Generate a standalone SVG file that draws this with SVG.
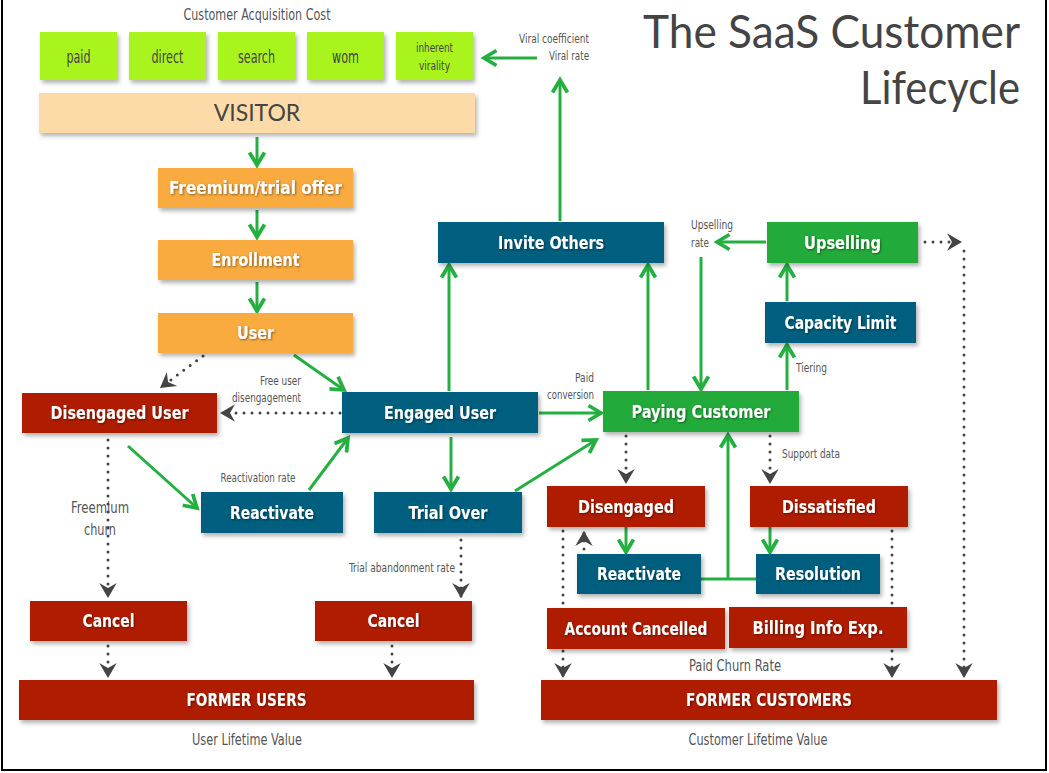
<svg xmlns="http://www.w3.org/2000/svg" width="1049" height="773" viewBox="0 0 1049 773">
  <style>
    .box { filter: url(#shadow); }
    .red { fill: #b01b00; }
    .teal { fill: #005f7e; }
    .green { fill: #24ab3b; }
    .orange { fill: #f9ab40; }
    .lime { fill: #a9f41c; }
    .visitor { fill: #fcdba8; }
    .lbl { font-family: "DejaVu Sans Condensed", "DejaVu Sans", sans-serif; font-stretch: condensed; font-weight: bold; font-size: 17px; fill: #ffffff; text-anchor: middle; filter: url(#tshadow); }
    .src { font-family: "DejaVu Sans Condensed", "DejaVu Sans", sans-serif; font-stretch: condensed; font-size: 18px; fill: #444444; text-anchor: middle; }
    .src.small { font-size: 13px; }
    .note { font-family: "DejaVu Sans Condensed", "DejaVu Sans", sans-serif; font-stretch: condensed; font-size: 13px; fill: #555555; }
    .cap { font-family: "DejaVu Sans Condensed", "DejaVu Sans", sans-serif; font-stretch: condensed; font-size: 16px; fill: #555555; text-anchor: middle; }
    .title { font-family: "Lato", "Open Sans", sans-serif; font-size: 46px; fill: #444444; text-anchor: end; }
    .flow { stroke: #24b040; stroke-width: 3; fill: none; marker-end: url(#ga); }
    .flow-plain { stroke: #24b040; stroke-width: 3; fill: none; }
    .dot { stroke: #444444; stroke-width: 3; fill: none; stroke-dasharray: 0 8; stroke-linecap: round; marker-end: url(#da); }
  </style>
  <defs>
    <filter id="shadow" x="-10%" y="-20%" width="130%" height="160%">
      <feDropShadow dx="2" dy="3" stdDeviation="2" flood-color="#000" flood-opacity="0.3"/>
    </filter>
    <filter id="tshadow" x="-10%" y="-30%" width="120%" height="160%">
      <feDropShadow dx="1" dy="1" stdDeviation="1" flood-color="#000" flood-opacity="0.45"/>
    </filter>
    <marker id="ga" markerUnits="userSpaceOnUse" markerWidth="20" markerHeight="20" viewBox="-12 -8 14 16" refX="0" refY="0" orient="auto">
      <path d="M-10,-6 L0,0 L-10,6" fill="none" stroke="#24b040" stroke-width="3"/>
    </marker>
    <marker id="da" markerUnits="userSpaceOnUse" markerWidth="20" markerHeight="20" viewBox="-12 -8 14 16" refX="0" refY="0" orient="auto">
      <path d="M-12,-7 L0,0 L-12,7 L-8,0 z" fill="#444444"/>
    </marker>
  </defs>

  <rect width="1049" height="773" fill="#ffffff"/>
  <path d="M2,0 V770 H1046 V0" fill="none" stroke="#000" stroke-width="2"/>

  <!-- heading -->
  <text class="title" x="1020" y="48" textLength="377" lengthAdjust="spacingAndGlyphs">The SaaS Customer</text>
  <text class="title" x="1020" y="104" textLength="160" lengthAdjust="spacingAndGlyphs">Lifecycle</text>

  <!-- free-standing labels -->
  <g id="labels">
    <text class="cap" x="257" y="20" textLength="147" lengthAdjust="spacingAndGlyphs">Customer Acquisition Cost</text>
    <text class="note" x="589" y="43" text-anchor="end" textLength="70" lengthAdjust="spacingAndGlyphs">Viral coefficient</text>
    <text class="note" x="589" y="60" text-anchor="end" textLength="40" lengthAdjust="spacingAndGlyphs">Viral rate</text>
    <text class="note" x="691" y="229" textLength="42" lengthAdjust="spacingAndGlyphs">Upselling</text>
    <text class="note" x="691" y="247" textLength="18" lengthAdjust="spacingAndGlyphs">rate</text>
    <text class="note" x="796" y="372" textLength="31" lengthAdjust="spacingAndGlyphs">Tiering</text>
    <text class="note" x="594" y="382" text-anchor="end" textLength="19" lengthAdjust="spacingAndGlyphs">Paid</text>
    <text class="note" x="594" y="399" text-anchor="end" textLength="47" lengthAdjust="spacingAndGlyphs">conversion</text>
    <text class="note" x="301" y="385" text-anchor="end" textLength="41" lengthAdjust="spacingAndGlyphs">Free user</text>
    <text class="note" x="301" y="402" text-anchor="end" textLength="69" lengthAdjust="spacingAndGlyphs">disengagement</text>
    <text class="note" x="258" y="482" text-anchor="middle" textLength="75" lengthAdjust="spacingAndGlyphs">Reactivation rate</text>
    <text class="cap" x="100" y="513" text-anchor="end" textLength="58" lengthAdjust="spacingAndGlyphs">Freemium</text>
    <text class="cap" x="100" y="535" text-anchor="end" textLength="32" lengthAdjust="spacingAndGlyphs">churn</text>
    <text class="note" x="455" y="572" text-anchor="end" textLength="106" lengthAdjust="spacingAndGlyphs">Trial abandonment rate</text>
    <text class="note" x="782" y="458" textLength="58" lengthAdjust="spacingAndGlyphs">Support data</text>
    <text class="cap" x="735" y="671" textLength="92" lengthAdjust="spacingAndGlyphs">Paid Churn Rate</text>
    <text class="cap" x="247" y="745" textLength="110" lengthAdjust="spacingAndGlyphs">User Lifetime Value</text>
    <text class="cap" x="758" y="745" textLength="139" lengthAdjust="spacingAndGlyphs">Customer Lifetime Value</text>
  </g>

  <!-- connectors -->
  <g id="connectors">
    <path class="flow" d="M257,137 L257,165"/>
    <path class="flow" d="M257,210 L257,237"/>
    <path class="flow" d="M257,282 L257,311"/>
    <path class="flow" d="M294,355 L344,390"/>
    <path class="dot" d="M203,356 L160,388"/>
    <path class="dot" d="M340,413 L220,413"/>
    <path class="flow" d="M128,446 L197,508"/>
    <path class="flow" d="M309,490 L348,438"/>
    <path class="flow" d="M451,437 L451,489"/>
    <path class="flow" d="M515,491 L596,440"/>
    <path class="flow" d="M539,413 L601,413"/>
    <path class="flow" d="M449,391 L449,265"/>
    <path class="flow" d="M648,390 L648,265"/>
    <path class="flow" d="M560,221 L560,80"/>
    <path class="flow" d="M537,58 L484,58"/>
    <path class="flow" d="M766,242 L717,242"/>
    <path class="flow" d="M701,257 L701,389"/>
    <path class="flow" d="M787,301 L787,265"/>
    <path class="flow" d="M787,390 L787,345"/>
    <path class="dot" d="M925,242 L962,242"/>
    <path class="dot" d="M964,251 L964,678"/>
    <path class="dot" d="M626,436 L626,484"/>
    <path class="dot" d="M770,436 L770,484"/>
    <path class="flow" d="M626,527 L626,552"/>
    <path class="flow" d="M770,527 L770,552"/>
    <path class="flow-plain" d="M701,579 L756,579"/>
    <path class="flow" d="M728,579 L728,435"/>
    <path class="dot" d="M584,557 L584,531"/>
    <path class="dot" d="M563,531 L563,678"/>
    <path class="dot" d="M892,531 L892,678"/>
    <path class="dot" d="M108,440 L108,598"/>
    <path class="dot" d="M461,540 L461,598"/>
    <path class="dot" d="M108,646 L108,678"/>
    <path class="dot" d="M392,646 L392,678"/>
  </g>

  <!-- acquisition channels -->
  <g id="paid"><rect class="box lime" x="40" y="32" width="77" height="48"/><text class="src" x="78.5" y="63" textLength="24" lengthAdjust="spacingAndGlyphs">paid</text></g>
  <g id="direct"><rect class="box lime" x="129" y="32" width="77" height="48"/><text class="src" x="167.5" y="63" textLength="32" lengthAdjust="spacingAndGlyphs">direct</text></g>
  <g id="search"><rect class="box lime" x="218" y="32" width="77" height="48"/><text class="src" x="256.5" y="63" textLength="37" lengthAdjust="spacingAndGlyphs">search</text></g>
  <g id="wom"><rect class="box lime" x="307" y="32" width="77" height="48"/><text class="src" x="345.5" y="63" textLength="27" lengthAdjust="spacingAndGlyphs">wom</text></g>
  <g id="virality"><rect class="box lime" x="396" y="32" width="77" height="48"/><text class="src small" x="434.5" y="52" textLength="37" lengthAdjust="spacingAndGlyphs">inherent</text><text class="src small" x="434.5" y="70" textLength="31" lengthAdjust="spacingAndGlyphs">virality</text></g>

  <g id="visitor"><rect class="box visitor" x="39" y="93" width="436" height="40"/><text x="257" y="121" text-anchor="middle" font-family="Lato, 'Open Sans', sans-serif" font-size="23" fill="#444">VISITOR</text></g>

  <!-- free funnel -->
  <g id="offer"><rect class="box orange" x="158" y="168" width="195" height="40"/><text class="lbl" x="255.5" y="194" textLength="173" lengthAdjust="spacingAndGlyphs">Freemium/trial offer</text></g>
  <g id="enrollment"><rect class="box orange" x="158" y="240" width="195" height="40"/><text class="lbl" x="255.5" y="266" textLength="88" lengthAdjust="spacingAndGlyphs">Enrollment</text></g>
  <g id="user"><rect class="box orange" x="158" y="313" width="195" height="40"/><text class="lbl" x="255.5" y="339" textLength="37" lengthAdjust="spacingAndGlyphs">User</text></g>

  <g id="disengaged-user"><rect class="box red" x="22" y="393" width="195" height="40"/><text class="lbl" x="119.5" y="419" textLength="138" lengthAdjust="spacingAndGlyphs">Disengaged User</text></g>
  <g id="engaged-user"><rect class="box teal" x="342" y="392" width="196" height="41"/><text class="lbl" x="440" y="419" textLength="112" lengthAdjust="spacingAndGlyphs">Engaged User</text></g>
  <g id="reactivate-user"><rect class="box teal" x="201" y="492" width="142" height="41"/><text class="lbl" x="272" y="519" textLength="84" lengthAdjust="spacingAndGlyphs">Reactivate</text></g>
  <g id="trial-over"><rect class="box teal" x="374" y="492" width="148" height="41"/><text class="lbl" x="448" y="519" textLength="79" lengthAdjust="spacingAndGlyphs">Trial Over</text></g>
  <g id="cancel-free"><rect class="box red" x="30" y="601" width="157" height="40"/><text class="lbl" x="108.5" y="627" textLength="52" lengthAdjust="spacingAndGlyphs">Cancel</text></g>
  <g id="cancel-trial"><rect class="box red" x="315" y="601" width="157" height="40"/><text class="lbl" x="393.5" y="627" textLength="52" lengthAdjust="spacingAndGlyphs">Cancel</text></g>
  <g id="former-users"><rect class="box red" x="19" y="680" width="455" height="40"/><text class="lbl" x="246.5" y="706" textLength="120" lengthAdjust="spacingAndGlyphs">FORMER USERS</text></g>

  <!-- paying side -->
  <g id="invite-others"><rect class="box teal" x="438" y="222" width="226" height="41"/><text class="lbl" x="551" y="249" textLength="106" lengthAdjust="spacingAndGlyphs">Invite Others</text></g>
  <g id="upselling"><rect class="box green" x="767" y="222" width="151" height="41"/><text class="lbl" x="842.5" y="249" textLength="77" lengthAdjust="spacingAndGlyphs">Upselling</text></g>
  <g id="capacity-limit"><rect class="box teal" x="765" y="302" width="151" height="41"/><text class="lbl" x="840.5" y="329" textLength="112" lengthAdjust="spacingAndGlyphs">Capacity Limit</text></g>
  <g id="paying-customer"><rect class="box green" x="603" y="391" width="196" height="41"/><text class="lbl" x="701" y="418" textLength="139" lengthAdjust="spacingAndGlyphs">Paying Customer</text></g>
  <g id="disengaged"><rect class="box red" x="547" y="486" width="158" height="41"/><text class="lbl" x="626" y="513" textLength="96" lengthAdjust="spacingAndGlyphs">Disengaged</text></g>
  <g id="dissatisfied"><rect class="box red" x="750" y="486" width="158" height="41"/><text class="lbl" x="829" y="513" textLength="94" lengthAdjust="spacingAndGlyphs">Dissatisfied</text></g>
  <g id="reactivate-customer"><rect class="box teal" x="577" y="554" width="124" height="40"/><text class="lbl" x="639" y="580" textLength="84" lengthAdjust="spacingAndGlyphs">Reactivate</text></g>
  <g id="resolution"><rect class="box teal" x="756" y="554" width="124" height="40"/><text class="lbl" x="818" y="580" textLength="86" lengthAdjust="spacingAndGlyphs">Resolution</text></g>
  <g id="account-cancelled"><rect class="box red" x="547" y="608" width="178" height="41"/><text class="lbl" x="636" y="635" textLength="143" lengthAdjust="spacingAndGlyphs">Account Cancelled</text></g>
  <g id="billing-info"><rect class="box red" x="729" y="607" width="178" height="41"/><text class="lbl" x="818" y="634" textLength="131" lengthAdjust="spacingAndGlyphs">Billing Info Exp.</text></g>
  <g id="former-customers"><rect class="box red" x="541" y="680" width="456" height="40"/><text class="lbl" x="769" y="706" textLength="166" lengthAdjust="spacingAndGlyphs">FORMER CUSTOMERS</text></g>
</svg>
